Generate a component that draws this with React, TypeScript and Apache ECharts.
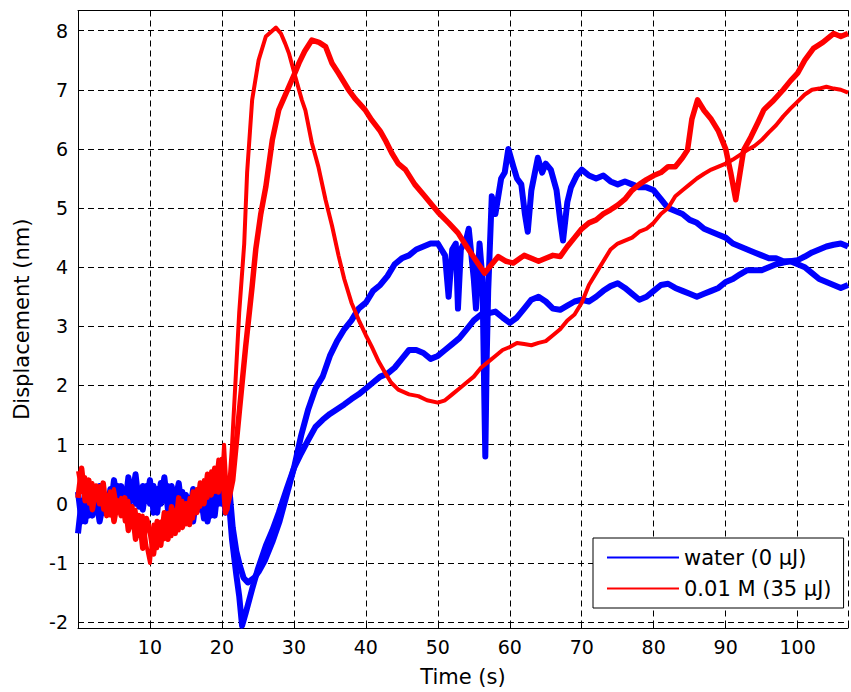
import React, { useEffect, useRef } from "react";
import * as echarts from "echarts";

// Time (s) / displacement (nm) pairs
const waterRun1: [number, number][] = [
  [0, 0.2], [0.5, -0.3], [1, 0.1], [1.5, -0.2], [2, 0.25], [2.5, 0.0], [3, 0.3], [3.5, -0.15], [4, 0.15],
  [4.5, -0.1], [5, 0.4], [5.5, 0.05], [6, 0.3], [6.5, -0.1], [7, 0.45], [7.5, 0.1], [8, 0.5], [8.5, -0.05],
  [9, 0.3], [9.5, 0.05], [10, 0.4], [10.5, -0.15], [11, 0.25], [11.5, 0.0], [12, 0.45], [12.5, -0.1], [13, 0.3],
  [13.5, 0.05], [14, 0.35], [14.5, -0.15], [15, 0.15], [15.5, -0.2], [16, 0.25], [16.5, -0.05], [17, 0.2],
  [17.5, -0.25], [18, 0.1], [18.5, -0.2], [19, 0.3], [19.5, 0.0], [20, 0.4], [20.5, -0.15], [21, 0.3],
  [21.5, -0.4], [22, -0.8], [22.5, -1.05], [23, -1.25], [23.6, -1.33],
  [24.5, -1.25], [25.1, -1.15], [26, -0.95], [27, -0.65], [28, -0.3], [29, 0.15], [30, 0.6], [31, 1.15],
  [32, 1.6], [33, 1.95], [34, 2.15], [35, 2.5], [36, 2.75], [37, 2.95], [38, 3.1], [39, 3.3], [40, 3.4],
  [41, 3.6], [42, 3.7], [43, 3.85], [44, 4.05], [45, 4.15], [46, 4.2], [47, 4.3], [48, 4.35], [49, 4.4],
  [50, 4.4], [50.5, 4.3], [51, 4.2], [51.5, 3.5], [52, 4.3], [52.5, 4.4], [52.8, 3.3], [53.2, 4.3], [54, 4.5],
  [54.3, 4.65], [55, 3.8], [55.3, 3.3], [55.8, 4.4], [56.2, 3.8], [56.5, 1.5], [56.6, 0.8], [56.8, 2.5],
  [57, 3.6], [57.5, 5.2], [58, 4.9], [58.8, 5.5], [59.3, 5.6], [59.8, 6.0], [60.5, 5.7], [61, 5.5], [61.6, 5.4],
  [62.1, 4.9], [62.5, 4.6], [63, 5.3], [63.9, 5.85], [64.5, 5.6], [65, 5.75], [65.7, 5.65], [66.5, 5.3],
  [67, 4.8], [67.4, 4.45], [68, 5.1], [68.5, 5.35], [69.3, 5.55], [70, 5.65], [71, 5.55], [72, 5.5], [73, 5.55],
  [74, 5.45], [75, 5.4], [76, 5.45], [77, 5.4], [78, 5.35], [79, 5.35], [80, 5.3], [81, 5.15], [82, 5.0],
  [83, 4.95], [84, 4.9], [85, 4.8], [86, 4.75], [87, 4.65], [88, 4.6], [89, 4.55], [90, 4.5], [91, 4.4],
  [92, 4.35], [93, 4.3], [94, 4.25], [95, 4.2], [96, 4.15], [97, 4.15], [98, 4.1], [99, 4.1], [100, 4.05],
  [101, 4.0], [102, 3.9], [103, 3.8], [104, 3.75], [105, 3.7], [106, 3.65], [107, 3.7],
];

const waterRun2: [number, number][] = [
  [0, -0.5], [0.5, 0.05], [1, -0.3], [1.5, 0.2], [2, -0.2], [2.5, 0.1], [3, -0.3], [3.5, 0.0], [4, -0.15],
  [4.5, 0.25], [5, -0.05], [5.5, 0.3], [6, -0.15], [6.5, 0.15], [7, -0.1], [7.5, 0.35], [8, 0.0], [8.5, 0.2],
  [9, -0.1], [9.5, 0.3], [10, 0.0], [10.5, 0.3], [11, -0.15], [11.5, 0.35], [12, 0.05], [12.5, 0.3],
  [13, -0.15], [13.5, 0.15], [14, -0.05], [14.5, 0.2], [15, -0.2], [15.5, 0.1], [16, -0.3], [16.5, 0.15],
  [17, -0.1], [17.5, 0.2], [18, -0.3], [18.5, 0.05], [19, -0.2], [19.5, 0.35], [20, 0.0], [20.5, 0.3],
  [21, 0.0], [21.4, -0.6], [22, -1.2], [22.4, -1.56], [22.8, -2.06], [23.3, -1.85],
  [24.2, -1.44], [25, -1.1], [26.1, -0.71], [27, -0.45], [27.9, -0.15], [29, 0.25], [30, 0.6], [31, 0.85],
  [32, 1.08], [33, 1.3], [34, 1.42], [35, 1.52], [36, 1.6], [37, 1.68], [38, 1.77], [39, 1.85], [40, 1.95],
  [41, 2.05], [42, 2.15], [43, 2.2], [44, 2.3], [45, 2.45], [46, 2.6], [47, 2.6], [48, 2.55], [49, 2.45],
  [50, 2.5], [51, 2.6], [52, 2.7], [53, 2.8], [54, 2.95], [55, 3.1], [56, 3.2], [57, 3.22], [58, 3.25],
  [59, 3.15], [60, 3.06], [61, 3.15], [62, 3.3], [63, 3.45], [64, 3.5], [65, 3.42], [66, 3.3], [67, 3.28],
  [68, 3.35], [69, 3.42], [70, 3.45], [71, 3.42], [72, 3.5], [73, 3.6], [74, 3.68], [75, 3.73], [76, 3.65],
  [77, 3.55], [78, 3.45], [79, 3.5], [80, 3.6], [81, 3.7], [82, 3.72], [83, 3.65], [84, 3.6], [85, 3.55],
  [86, 3.5], [87, 3.55], [88, 3.6], [89, 3.65], [90, 3.75], [91, 3.8], [92, 3.88], [93, 3.95], [94, 3.95],
  [95, 3.95], [96, 4.0], [97, 4.05], [98, 4.08], [99, 4.1], [100, 4.12], [101, 4.18], [102, 4.25], [103, 4.3],
  [104, 4.35], [105, 4.38], [106, 4.4], [107, 4.35],
];

const saltRun1: [number, number][] = [
  [0, 0.55], [0.5, 0.2], [1, 0.45], [1.5, 0.0], [2, 0.35], [2.5, 0.1], [3, 0.3], [3.5, -0.1], [4, 0.15],
  [4.5, -0.2], [5, 0.25], [5.5, -0.1], [6, 0.1], [6.5, -0.3], [7, 0.05], [7.5, -0.4], [8, -0.1], [8.5, -0.55],
  [9, -0.2], [9.5, -0.7], [10, -1.0], [10.5, -0.35], [11, -0.75], [11.5, -0.3], [12, -0.6], [12.5, -0.15],
  [13, -0.55], [13.5, -0.1], [14, -0.45], [14.5, 0.05], [15, -0.35], [15.5, 0.1], [16, -0.25], [16.5, 0.25],
  [17, -0.05], [17.5, 0.4], [18, 0.1], [18.5, 0.55], [19, 0.2], [19.5, 0.75], [20, 0.35], [20.3, 1.0],
  [20.8, -0.1], [21, 0.3], [21.4, 0.98], [21.9, 2.1], [22.4, 3.23], [23.1, 4.4],
  [23.5, 5.6], [24.2, 6.83], [25.1, 7.5], [26.1, 7.9], [27.2, 8.02], [27.5, 8.05], [28.2, 7.95], [28.8, 7.78],
  [29.3, 7.62], [30.2, 7.22], [31.1, 6.83], [31.6, 6.65], [32.5, 6.1], [33.4, 5.7], [34.4, 5.14], [35.3, 4.7],
  [36.2, 4.2], [37, 3.8], [38, 3.4], [39, 3.11], [40, 2.85], [40.8, 2.66], [41.8, 2.4], [42.7, 2.21],
  [43.5, 2.05], [44.5, 1.93], [46, 1.85], [47.3, 1.82], [48.5, 1.75], [50, 1.71], [51, 1.75], [52, 1.85],
  [53, 1.95], [54, 2.05], [55, 2.15], [56, 2.3], [57, 2.4], [58, 2.5], [59, 2.6], [60, 2.65], [61, 2.72],
  [62, 2.7], [63, 2.68], [64, 2.72], [65, 2.75], [66, 2.85], [67, 2.95], [68, 3.1], [69, 3.2], [70, 3.4],
  [71, 3.7], [72, 3.9], [73, 4.1], [74, 4.3], [75, 4.4], [76, 4.45], [77, 4.5], [78, 4.6], [79, 4.65],
  [80, 4.75], [81, 4.9], [82, 5.0], [83, 5.2], [84, 5.3], [85, 5.4], [86, 5.5], [87, 5.58], [88, 5.65],
  [89, 5.7], [90, 5.75], [91, 5.82], [92, 5.9], [93, 5.98], [94, 6.05], [95, 6.15], [96, 6.28], [97, 6.4],
  [98, 6.55], [99, 6.68], [100, 6.8], [101, 6.92], [102, 7.0], [103, 7.02], [104, 7.05], [105, 7.02],
  [106, 7.0], [107, 6.95],
];

const saltRun2: [number, number][] = [
  [0, 0.1], [0.5, 0.6], [1, 0.05], [1.5, 0.4], [2, -0.1], [2.5, 0.3], [3, 0.0], [3.5, 0.35], [4, -0.2],
  [4.5, 0.2], [5, -0.3], [5.5, 0.05], [6, -0.2], [6.5, 0.1], [7, -0.45], [7.5, -0.05], [8, -0.6], [8.5, -0.2],
  [9, -0.75], [9.5, -0.25], [10, -0.45], [10.5, -0.85], [11, -0.3], [11.5, -0.7], [12, -0.15], [12.5, -0.6],
  [13, -0.05], [13.5, -0.5], [14, 0.1], [14.5, -0.4], [15, 0.0], [15.5, -0.35], [16, 0.2], [16.5, -0.15],
  [17, 0.35], [17.5, 0.0], [18, 0.5], [18.5, 0.15], [19, 0.6], [19.5, 0.2], [20, 0.75], [20.5, -0.15],
  [21, 0.1], [21.5, 0.4], [22.4, 1.54], [23.3, 2.66], [24.2, 3.68],
  [24.7, 4.3], [25.4, 4.9], [26.1, 5.36], [27, 6.15], [27.9, 6.66], [29.3, 7.05], [30.2, 7.3], [30.7, 7.45],
  [31.5, 7.65], [32.5, 7.84], [33.5, 7.8], [34.4, 7.73], [35.3, 7.45], [36.2, 7.28], [37.6, 7.0], [38.5, 6.85],
  [39.9, 6.66], [40.8, 6.49], [42, 6.3], [42.7, 6.15], [43.6, 5.93], [44.5, 5.75], [45.5, 5.65], [46.8, 5.4],
  [48.2, 5.2], [49.2, 5.05], [50.1, 4.92], [51.5, 4.75], [52.8, 4.58], [54, 4.35], [55.2, 4.13], [56.5, 3.9],
  [57.5, 4.05], [58.4, 4.18], [59.5, 4.1], [60.5, 4.07], [62, 4.2], [63, 4.15], [64, 4.1], [65, 4.15],
  [66, 4.2], [67, 4.18], [68, 4.35], [69, 4.5], [70, 4.65], [71, 4.75], [72, 4.8], [73, 4.9], [74, 4.97],
  [75, 5.05], [76, 5.15], [77, 5.3], [78, 5.4], [79, 5.48], [80, 5.55], [81, 5.6], [82, 5.7], [83, 5.7],
  [84, 5.85], [84.7, 5.98], [85.3, 6.5], [86.1, 6.83], [87, 6.65], [88, 6.5], [89, 6.3], [90, 6.0],
  [90.7, 5.6], [91.4, 5.14], [92, 5.6], [92.5, 5.98], [93.5, 6.2], [94.5, 6.45], [95.3, 6.66], [96.5, 6.8],
  [98, 7.0], [99, 7.15], [100, 7.28], [101, 7.5], [102.2, 7.7], [103.5, 7.8], [105, 7.95], [106, 7.9],
  [107, 7.95],
];

const legendNames = ["water (0 μJ)", "0.01 M (35 μJ)"];
const xTicks = [10, 20, 30, 40, 50, 60, 70, 80, 90, 100];
const yTicks = [-2, -1, 0, 1, 2, 3, 4, 5, 6, 7, 8];

const FONT = "DejaVu Sans";

export default function App() {
  const ref = useRef<HTMLDivElement>(null);
  useEffect(() => {
    if (!ref.current) return;
    const chart = echarts.init(ref.current, null, { renderer: "svg" });
    const dashed = { show: true, lineStyle: { color: "#000", width: 1, type: [6, 4] as any } };
    chart.setOption({
      animation: false,
      backgroundColor: "#fff",
      grid: { left: 78, right: 0, top: 10.5, bottom: 63, containLabel: false },
      legend: {
        data: legendNames,
        orient: "vertical",
        left: 593,
        top: 538,
        padding: [9, 12, 9, 14],
        itemWidth: 72,
        itemHeight: 2,
        icon: "rect",
        itemGap: 10,
        borderColor: "#000",
        borderWidth: 1,
        backgroundColor: "#fff",
        selectedMode: false,
        textStyle: { fontFamily: FONT, fontSize: 21, color: "#000" },
      },
      xAxis: [
        {
          type: "value",
          min: 0,
          max: 107,
          interval: 10,
          position: "bottom",
          axisLine: { show: true, onZero: false, lineStyle: { color: "#000", width: 1 } },
          axisTick: { show: true, inside: true, length: 5, lineStyle: { color: "#000" } },
          axisLabel: {
            margin: 9,
            fontFamily: FONT,
            fontSize: 19,
            color: "#000",
            formatter: (v: number) => (xTicks.includes(v) ? String(v) : ""),
          },
          splitLine: dashed,
          name: "Time (s)",
          nameLocation: "middle",
          nameGap: 38,
          nameTextStyle: { fontFamily: FONT, fontSize: 21, color: "#000" },
        },
        {
          type: "value",
          min: 0,
          max: 107,
          interval: 10,
          position: "top",
          axisLine: { show: true, onZero: false, lineStyle: { color: "#000", width: 1 } },
          axisTick: { show: true, inside: true, length: 5, lineStyle: { color: "#000" } },
          axisLabel: { show: false },
          splitLine: { show: false },
        },
      ],
      yAxis: {
        type: "value",
        min: -2.1,
        max: 8.34,
        splitNumber: 10,
        axisLine: { show: true, onZero: false, lineStyle: { color: "#000", width: 1 } },
        axisTick: { show: true, inside: true, length: 5, lineStyle: { color: "#000" } },
        axisLabel: {
          margin: 10,
          fontFamily: FONT,
          fontSize: 19,
          color: "#000",
          formatter: (v: number) => (yTicks.includes(Math.round(v * 1000) / 1000) ? String(Math.round(v)) : ""),
        },
        splitLine: dashed,
        name: "Displacement (nm)",
        nameLocation: "middle",
        nameGap: 46,
        nameTextStyle: { fontFamily: FONT, fontSize: 21, color: "#000" },
      },
      series: [
        { name: legendNames[0], data: waterRun1, color: "#0000ff", width: 6 },
        { name: legendNames[0], data: waterRun2, color: "#0000ff", width: 6 },
        { name: legendNames[1], data: saltRun1, color: "#ff0000", width: 4 },
        { name: legendNames[1], data: saltRun2, color: "#ff0000", width: 5.5 },
      ].map((s) => ({
        type: "line",
        name: s.name,
        data: s.data,
        xAxisIndex: 0,
        showSymbol: false,
        symbol: "none",
        silent: true,
        color: s.color,
        itemStyle: { color: s.color },
        lineStyle: { color: s.color, width: s.width, join: "round" },
        emphasis: { disabled: true },
      })),
    });
    return () => chart.dispose();
  }, []);
  return (
    <div
      ref={ref}
      style={{ position: "fixed", left: 0, top: 0, width: 851, height: 692, background: "#fff" }}
    />
  );
}
